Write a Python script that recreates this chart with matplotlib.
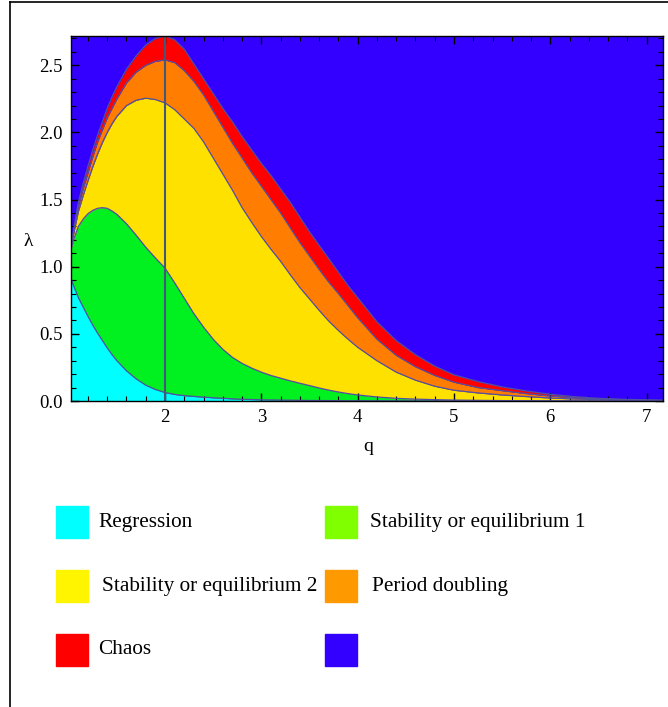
import numpy as np
import matplotlib.pyplot as plt
from matplotlib.patches import Rectangle
from matplotlib.lines import Line2D
from matplotlib.ticker import MultipleLocator, FormatStrFormatter

plt.rcParams['font.family'] = ['Liberation Serif', 'DejaVu Serif']

# valores (q, lambda de cada frontera)
q = [1.02, 1.05, 1.1, 1.15, 1.2, 1.25, 1.3, 1.35, 1.4, 1.45, 1.5, 1.6, 1.7, 1.8, 1.9, 2.0,
     2.1, 2.2, 2.3, 2.4, 2.5, 2.6, 2.7, 2.8, 2.9, 3.0,
     3.1, 3.2, 3.3, 3.4, 3.5, 3.6, 3.7, 3.8, 3.9, 4.0,
     4.2, 4.4, 4.6, 4.8, 5.0, 5.25, 5.5, 5.75, 6.0, 6.25, 6.5, 6.75, 7.0, 7.2]

regresion = [0.92, 0.86, 0.77, 0.70, 0.63, 0.565, 0.505, 0.45, 0.395, 0.345, 0.30,
             0.225, 0.165, 0.118, 0.086, 0.063,
             0.049, 0.04, 0.034, 0.029, 0.024, 0.02, 0.016, 0.013, 0.011, 0.009,
             0.008, 0.007, 0.006, 0.005, 0.004, 0.0035, 0.003, 0.0025, 0.002, 0.002,
             0.0015, 0.001, 0.001, 0.001, 0, 0, 0, 0, 0, 0, 0, 0, 0, 0]

estab1 = [1.12, 1.20, 1.30, 1.355, 1.395, 1.42, 1.435, 1.44, 1.435, 1.415, 1.39,
          1.32, 1.235, 1.145, 1.065, 0.99,
          0.88, 0.765, 0.65, 0.55, 0.46, 0.385, 0.325, 0.28, 0.245, 0.215,
          0.19, 0.17, 0.15, 0.132, 0.115, 0.097, 0.081, 0.067, 0.055, 0.045,
          0.03, 0.02, 0.014, 0.01, 0.007, 0.005, 0.003, 0.002, 0.001, 0.001, 0, 0, 0, 0]

estab2 = [1.15, 1.24, 1.41, 1.53, 1.64, 1.745, 1.84, 1.925, 2.00, 2.065, 2.12,
          2.20, 2.24, 2.255, 2.245, 2.22,
          2.17, 2.10, 2.03, 1.93, 1.81, 1.69, 1.57, 1.44, 1.33, 1.225,
          1.13, 1.04, 0.94, 0.845, 0.76, 0.675, 0.595, 0.525, 0.46, 0.40,
          0.30, 0.215, 0.155, 0.11, 0.08, 0.06, 0.045, 0.033, 0.022, 0.015, 0.01, 0.007, 0.004, 0.003]

periodo = [1.16, 1.25, 1.45, 1.58, 1.70, 1.82, 1.93, 2.02, 2.11, 2.18, 2.25,
           2.37, 2.45, 2.50, 2.53, 2.54,
           2.52, 2.46, 2.38, 2.28, 2.16, 2.04, 1.92, 1.81, 1.70, 1.60,
           1.50, 1.40, 1.29, 1.18, 1.08, 0.98, 0.885, 0.80, 0.71, 0.62,
           0.46, 0.34, 0.255, 0.19, 0.14, 0.10, 0.077, 0.055, 0.037, 0.024, 0.015, 0.01, 0.006, 0.004]

caos = [1.16, 1.27, 1.48, 1.62, 1.75, 1.87, 1.98, 2.08, 2.18, 2.265, 2.34,
        2.47, 2.57, 2.65, 2.70, 2.72,
        2.69, 2.62, 2.51, 2.40, 2.29, 2.18, 2.08, 1.97, 1.87, 1.77,
        1.68, 1.58, 1.48, 1.37, 1.26, 1.16, 1.06, 0.96, 0.86, 0.77,
        0.59, 0.45, 0.345, 0.26, 0.195, 0.145, 0.105, 0.075, 0.05, 0.032, 0.02, 0.013, 0.008, 0.005]

etiquetas = ['Regression', 'Stability or equilibrium 1', 'Stability or equilibrium 2',
             'Period doubling', 'Chaos', '']

# colores
c_cyan = '#00ffff'
c_verde = '#00f020'
c_amarillo = '#ffe100'
c_naranja = '#ff7d00'
c_rojo = '#ff0000'
c_azul = '#3300ff'
leyenda_colores = ['#00ffff', '#80ff00', '#fff500', '#ff9900', '#ff0000', '#3300ff']
c_linea = '#5050a0'

fig = plt.figure(figsize=(6.68, 7.07), dpi=100)
ax = fig.add_axes([71/668, 1-401/707, (663-71)/668, (401-36)/707])
ax.set_facecolor(c_azul)

ax.fill_between(q, 0, regresion, color=c_cyan, lw=0)
ax.fill_between(q, regresion, estab1, color=c_verde, lw=0)
ax.fill_between(q, estab1, estab2, color=c_amarillo, lw=0)
ax.fill_between(q, estab2, periodo, color=c_naranja, lw=0)
ax.fill_between(q, periodo, caos, color=c_rojo, lw=0)
for serie in [regresion, estab1, estab2, periodo, caos]:
    ax.plot(q, serie, color=c_linea, lw=0.9)
ax.axvline(2, color='#44597a', lw=1.5)

ax.set_xlim(1.024, 7.17)
ax.set_ylim(0, np.e)
ax.xaxis.set_major_locator(MultipleLocator(1))
ax.xaxis.set_minor_locator(MultipleLocator(0.2))
ax.yaxis.set_major_locator(MultipleLocator(0.5))
ax.yaxis.set_minor_locator(MultipleLocator(0.1))
ax.yaxis.set_major_formatter(FormatStrFormatter('%.1f'))
ax.tick_params(which='both', direction='in', top=True, right=True, labelsize=13.5)
ax.tick_params(which='major', length=6, width=1)
ax.tick_params(which='minor', length=3.5, width=0.8)
ax.tick_params(axis='x', pad=6)
ax.tick_params(axis='y', pad=6)
for s in ax.spines.values():
    s.set_linewidth(1)

fig.text(368/668, 1-447/707, 'q', ha='center', va='center', fontsize=14)
fig.text(28/668, 1-241/707, 'λ', ha='center', va='center', fontsize=14)

# leyenda
filas = [522, 586, 650]
columnas = [56, 325]
texto_x = [[98, 370], [102, 372], [98, 372]]
k = 0
for i, y in enumerate(filas):
    for j, x in enumerate(columnas):
        fig.patches.append(Rectangle((x/668, 1-(y+16)/707), 32/668, 32/707,
                                     transform=fig.transFigure, color=leyenda_colores[k]))
        fig.text(texto_x[i][j]/668, 1-y/707, etiquetas[k], ha='left', va='center', fontsize=15.3)
        k += 1

# marco
fig.add_artist(Line2D([10/668, 1], [1-2/707, 1-2/707], color='black', lw=1.2, transform=fig.transFigure))
fig.add_artist(Line2D([10/668, 10/668], [0, 1-2/707], color='black', lw=1.2, transform=fig.transFigure))

fig.savefig('out.png', dpi=100)
